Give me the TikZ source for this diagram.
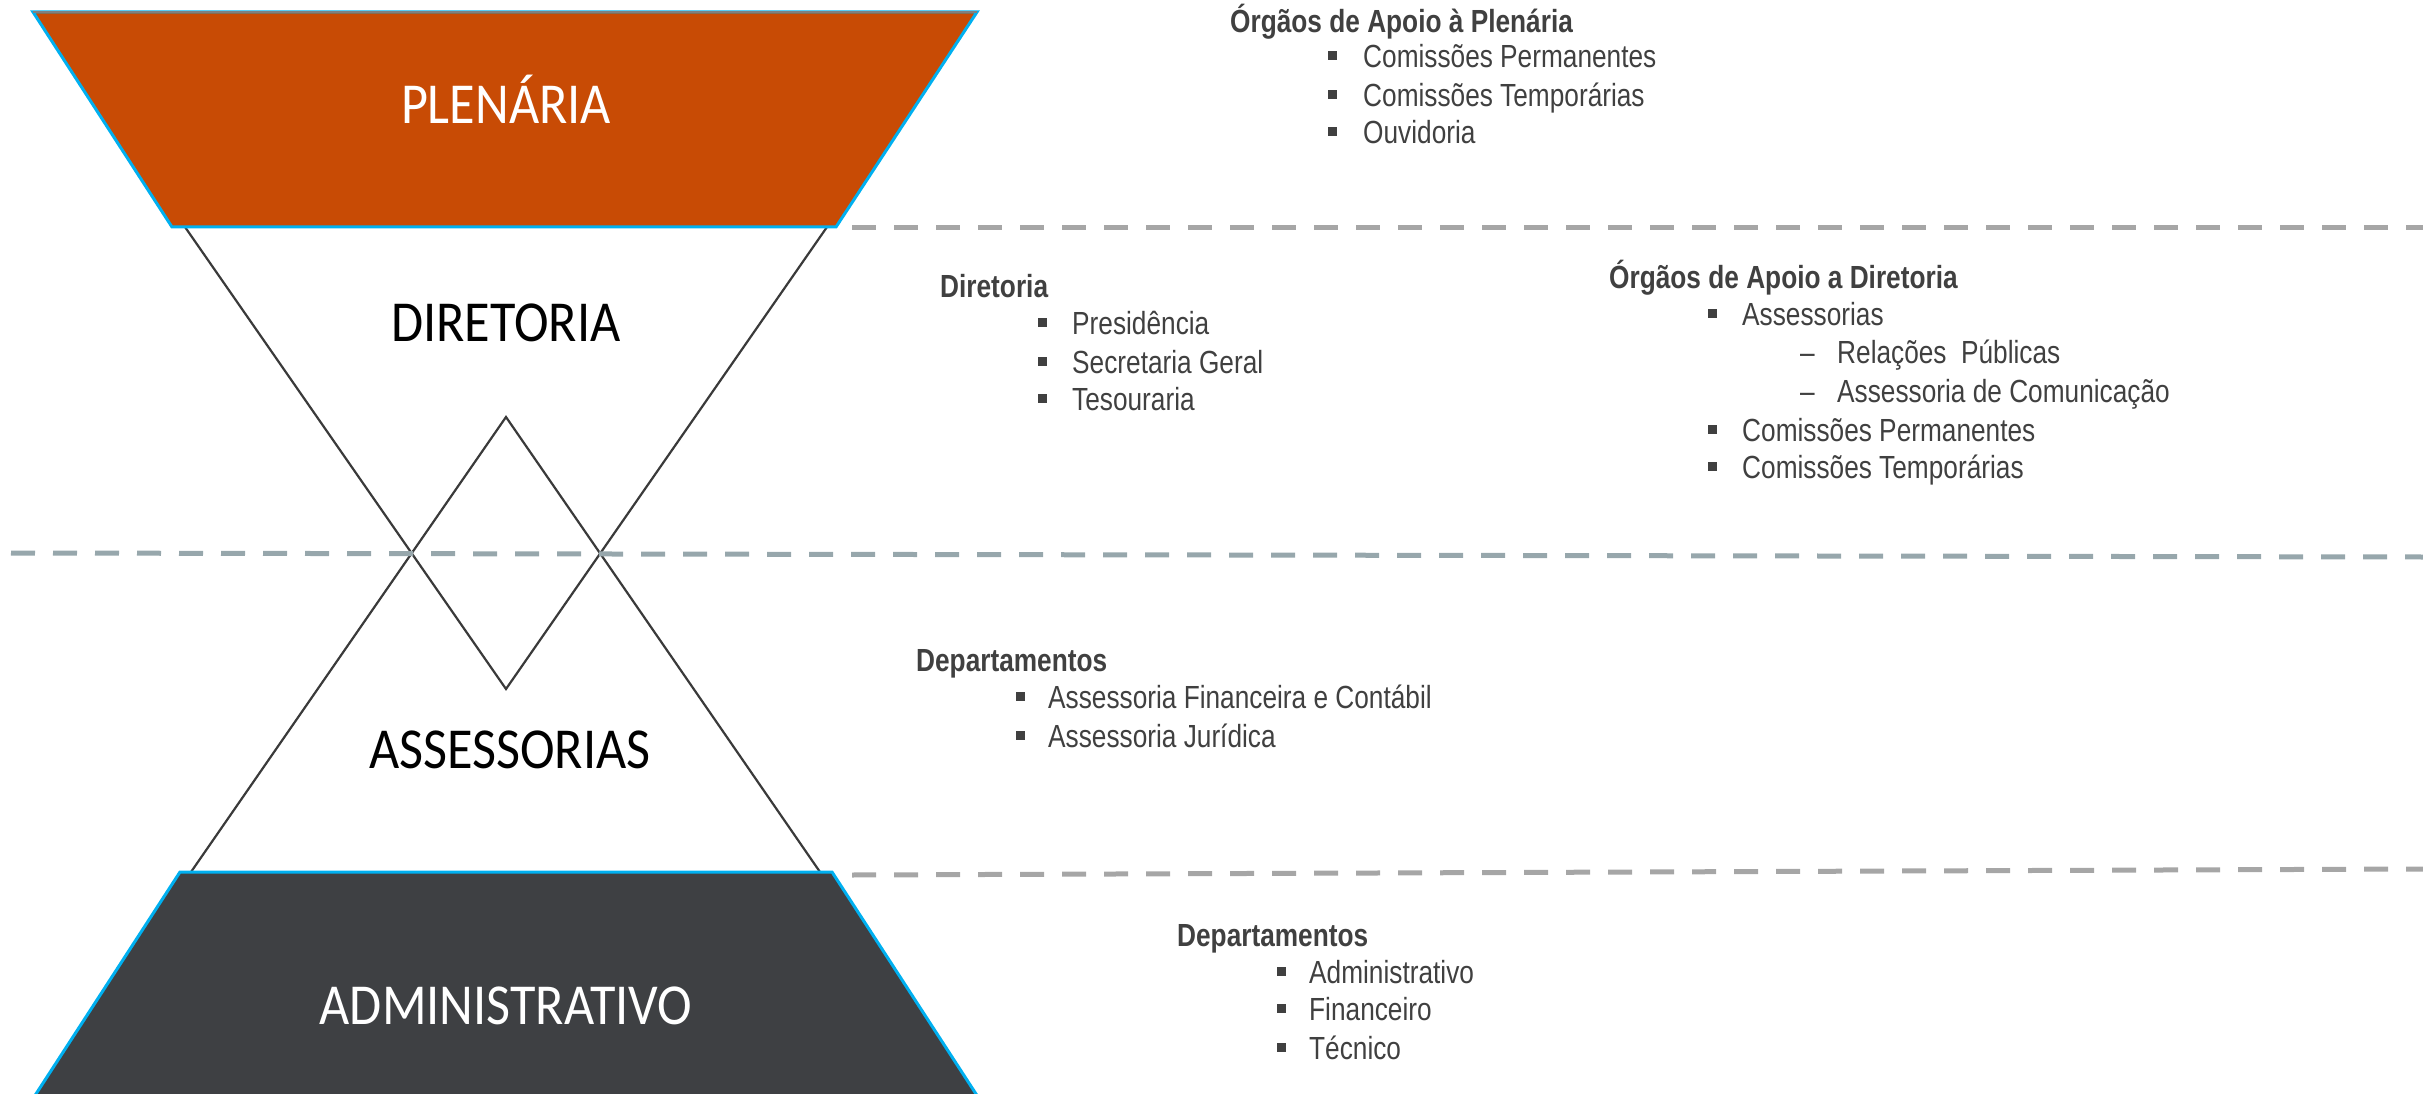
\documentclass[tikz,border=0pt]{standalone}
\usepackage{fontspec}
\newfontfamily\rfont[FakeStretch=0.82]{Liberation Sans}
\newfontfamily\cfont[FakeStretch=0.9]{Carlito}
\definecolor{plen}{HTML}{C84B05}
\definecolor{adm}{HTML}{3E4043}
\definecolor{edge}{HTML}{00B0F0}
\definecolor{tc}{HTML}{404040}
\definecolor{dgA}{HTML}{A6A6A6}
\definecolor{dgB}{HTML}{97A7AC}
\definecolor{ln}{HTML}{3A3A3A}
\begin{document}
\begin{tikzpicture}[x=1pt,y=-1pt,
  big/.style={font=\cfont\fontsize{58}{60}\selectfont, inner sep=0, anchor=base},
  hd/.style={font=\rfont\bfseries\fontsize{32}{38}\selectfont, text=tc, inner sep=0, anchor=base west},
  itm/.style={font=\rfont\fontsize{32}{38}\selectfont, text=tc, inner sep=0, anchor=base west},
  bul/.style={fill=tc, rectangle, minimum size=9, inner sep=0},
  sep/.style={line width=5, dash pattern=on 24 off 18},
  tri/.style={draw=ln, line width=2.2}
]
\useasboundingbox (0,0) rectangle (2423,1094);
% coordinates
\coordinate (p1) at (33,12);   \coordinate (p2) at (977,12);
\coordinate (p3) at (836,227); \coordinate (p4) at (172,227);
\coordinate (d1) at (185,227); \coordinate (d2) at (827,227); \coordinate (d3) at (506,689);
\coordinate (a1) at (506,417); \coordinate (a2) at (820,872); \coordinate (a3) at (191,872);
\coordinate (m1) at (180,872); \coordinate (m2) at (832,872);
\coordinate (m3) at (978,1097); \coordinate (m4) at (34,1097);
% triangles
\draw[tri] (d1) -- (d3) -- (d2);
\draw[tri] (a3) -- (a1) -- (a2);
% trapezoids
\draw[fill=plen, draw=edge, line width=3, line join=miter] (p1) -- (p2) -- (p3) -- (p4) -- cycle;
\draw[draw=gray, line width=2] (p1) -- (p2);
\draw[fill=adm, draw=edge, line width=3] (m1) -- (m2) -- (m3) -- (m4) -- cycle;
% dashed separators
\coordinate (s1a) at (852,228);  \coordinate (s1b) at (2423,228);
\coordinate (s2a) at (11,553);   \coordinate (s2b) at (2423,557);
\coordinate (s3a) at (852,875);  \coordinate (s3b) at (2423,869);
\draw[sep, dgA] (s1a) -- (s1b);
\draw[sep, dgB] (s2a) -- (s2b);
\draw[sep, dgA] (s3a) -- (s3b);
% big labels
\node[big, text=white] (lp) at (506,124) {PLENÁRIA};
\node[big, text=black] (ld) at (506,341) {DIRETORIA};
\node[big, text=black] (la) at (510,768) {ASSESSORIAS};
\node[big, text=white] (lm) at (506,1024) {ADMINISTRATIVO};
% block 1
\node[hd] (h1) at (1230,33) {Órgãos de Apoio à Plenária};
\node[bul] (b11) at (1332,56) {}; \node[itm] (t11) at (1363,68) {Comissões Permanentes};
\node[bul] (b12) at (1332,95) {}; \node[itm] (t12) at (1363,107) {Comissões Temporárias};
\node[bul] (b13) at (1332,132) {}; \node[itm] (t13) at (1363,144) {Ouvidoria};
% block 2
\node[hd] (h2) at (940,297) {Diretoria};
\node[bul] (b21) at (1042,322) {}; \node[itm] (t21) at (1072,334) {Presidência};
\node[bul] (b22) at (1042,361) {}; \node[itm] (t22) at (1072,373) {Secretaria Geral};
\node[bul] (b23) at (1042,398) {}; \node[itm] (t23) at (1072,410) {Tesouraria};
% block 3
\node[hd] (h3) at (1609,288) {Órgãos de Apoio a Diretoria};
\node[bul] (b31) at (1712,313) {}; \node[itm] (t31) at (1742,325) {Assessorias};
\node[itm] (c32) at (1800,363) {–}; \node[itm] (t32) at (1837,363) {Relações\ \ Públicas};
\node[itm] (c33) at (1800,402) {–}; \node[itm] (t33) at (1837,402) {Assessoria de Comunicação};
\node[bul] (b34) at (1712,429) {}; \node[itm] (t34) at (1742,441) {Comissões Permanentes};
\node[bul] (b35) at (1712,466) {}; \node[itm] (t35) at (1742,478) {Comissões Temporárias};
% block 4
\node[hd] (h4) at (916,671) {Departamentos};
\node[bul] (b41) at (1020,696) {}; \node[itm] (t41) at (1048,708) {Assessoria Financeira e Contábil};
\node[bul] (b42) at (1020,735) {}; \node[itm] (t42) at (1048,747) {Assessoria Jurídica};
% block 5
\node[hd] (h5) at (1177,946) {Departamentos};
\node[bul] (b51) at (1281,971) {}; \node[itm] (t51) at (1309,983) {Administrativo};
\node[bul] (b52) at (1281,1008) {}; \node[itm] (t52) at (1309,1020) {Financeiro};
\node[bul] (b53) at (1281,1047) {}; \node[itm] (t53) at (1309,1059) {Técnico};
\end{tikzpicture}
\end{document}
